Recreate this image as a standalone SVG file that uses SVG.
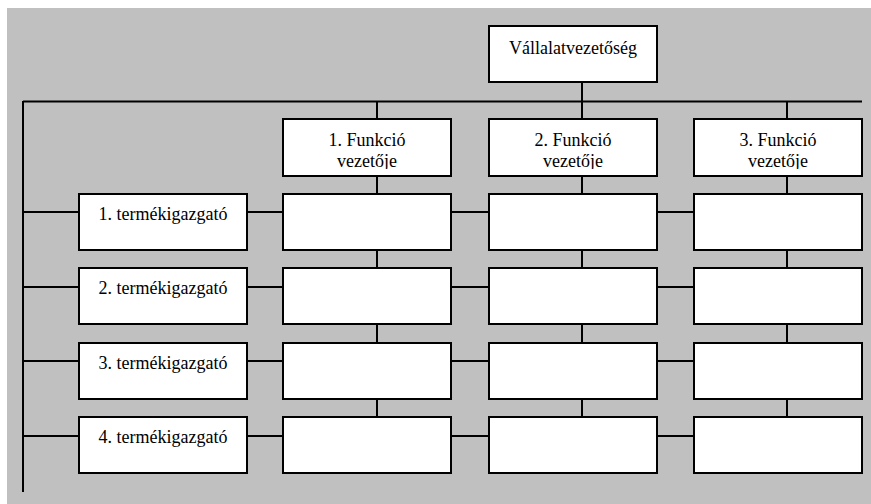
<svg xmlns="http://www.w3.org/2000/svg" width="871" height="504" viewBox="0 0 871 504">
  <style>
    .box { fill: #ffffff; stroke: #000000; stroke-width: 2; }
    .wire { fill: none; stroke: #000000; stroke-width: 2; }
    .lbl { font-family: "Liberation Serif", "Times New Roman", serif; font-size: 18px; fill: #000000; text-anchor: middle; }
  </style>
  <defs>
    <!-- the head labels sit in a frame that cuts off their descenders -->
    <clipPath id="funcClip" clipPathUnits="userSpaceOnUse">
      <rect x="280" y="115" width="590" height="54"/>
    </clipPath>
  </defs>

  <!-- background panel -->
  <rect x="7" y="8" width="864" height="496" fill="#c0c0c0"/>

  <!-- connectors -->
  <g id="connectors" class="wire">
    <!-- top bus and left bus -->
    <path class="wire" d="M23,101.5 H862 M23,101 V492"/>
    <!-- management to bus -->
    <path class="wire" d="M582,82 V101"/>
    <!-- bus to function heads -->
    <path class="wire" d="M377,101 V119 M582,101 V119 M787,101 V119"/>
    <!-- column verticals -->
    <path class="wire" d="M377,176 V194 M377,250 V268 M377,324 V343 M377,399 V417"/>
    <path class="wire" d="M582,176 V194 M582,250 V268 M582,324 V343 M582,399 V417"/>
    <path class="wire" d="M787,176 V194 M787,250 V268 M787,324 V343 M787,399 V417"/>
    <!-- row horizontals -->
    <path class="wire" d="M23,212 H79 M247,212 H283 M451,212 H489 M657,212 H694"/>
    <path class="wire" d="M23,287 H79 M247,287 H283 M451,287 H489 M657,287 H694"/>
    <path class="wire" d="M23,361 H79 M247,361 H283 M451,361 H489 M657,361 H694"/>
    <path class="wire" d="M23,436 H79 M247,436 H283 M451,436 H489 M657,436 H694"/>
  </g>

  <!-- top management -->
  <g id="vallalatvezetoseg">
    <rect class="box" x="489" y="26" width="168" height="56"/>
    <text class="lbl" x="573" y="54">Vállalatvezetőség</text>
  </g>

  <!-- function heads -->
  <g id="funkcio1">
    <rect class="box" x="283" y="119" width="168" height="57"/>
    <text class="lbl" x="367" y="146" clip-path="url(#funcClip)"><tspan x="367">1. Funkció</tspan><tspan x="367" dy="20.5">vezetője</tspan></text>
  </g>
  <g id="funkcio2">
    <rect class="box" x="489" y="119" width="168" height="57"/>
    <text class="lbl" x="573" y="146" clip-path="url(#funcClip)"><tspan x="573">2. Funkció</tspan><tspan x="573" dy="20.5">vezetője</tspan></text>
  </g>
  <g id="funkcio3">
    <rect class="box" x="694" y="119" width="168" height="57"/>
    <text class="lbl" x="778" y="146" clip-path="url(#funcClip)"><tspan x="778">3. Funkció</tspan><tspan x="778" dy="20.5">vezetője</tspan></text>
  </g>

  <!-- product managers -->
  <g id="termek1">
    <rect class="box" x="79" y="194" width="168" height="56"/>
    <text class="lbl" x="163" y="220">1. termékigazgató</text>
  </g>
  <g id="termek2">
    <rect class="box" x="79" y="268" width="168" height="56"/>
    <text class="lbl" x="163" y="294">2. termékigazgató</text>
  </g>
  <g id="termek3">
    <rect class="box" x="79" y="343" width="168" height="56"/>
    <text class="lbl" x="163" y="369">3. termékigazgató</text>
  </g>
  <g id="termek4">
    <rect class="box" x="79" y="417" width="168" height="56"/>
    <text class="lbl" x="163" y="443">4. termékigazgató</text>
  </g>

  <!-- matrix cells, row 1 -->
  <g id="cell-1-1"><rect class="box" x="283" y="194" width="168" height="56"/></g>
  <g id="cell-1-2"><rect class="box" x="489" y="194" width="168" height="56"/></g>
  <g id="cell-1-3"><rect class="box" x="694" y="194" width="168" height="56"/></g>
  <!-- row 2 -->
  <g id="cell-2-1"><rect class="box" x="283" y="268" width="168" height="56"/></g>
  <g id="cell-2-2"><rect class="box" x="489" y="268" width="168" height="56"/></g>
  <g id="cell-2-3"><rect class="box" x="694" y="268" width="168" height="56"/></g>
  <!-- row 3 -->
  <g id="cell-3-1"><rect class="box" x="283" y="343" width="168" height="56"/></g>
  <g id="cell-3-2"><rect class="box" x="489" y="343" width="168" height="56"/></g>
  <g id="cell-3-3"><rect class="box" x="694" y="343" width="168" height="56"/></g>
  <!-- row 4 -->
  <g id="cell-4-1"><rect class="box" x="283" y="417" width="168" height="56"/></g>
  <g id="cell-4-2"><rect class="box" x="489" y="417" width="168" height="56"/></g>
  <g id="cell-4-3"><rect class="box" x="694" y="417" width="168" height="56"/></g>
</svg>
